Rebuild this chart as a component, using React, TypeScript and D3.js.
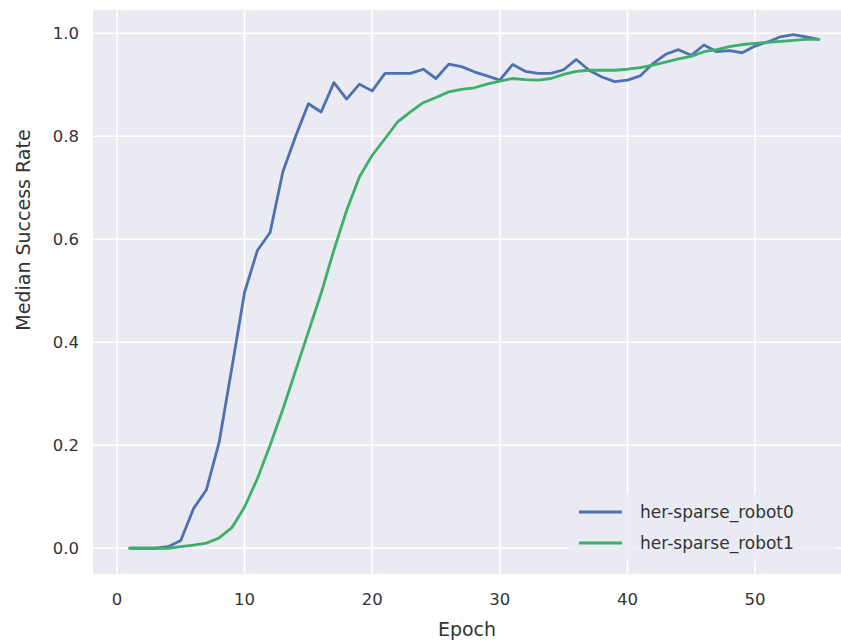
import { useEffect } from 'react';
import * as d3 from 'd3';

const epochs = d3.range(1, 56);

const robot0 = [
  0, 0, 0, 0.003, 0.015, 0.077, 0.113, 0.205, 0.35, 0.497,
  0.578, 0.613, 0.731, 0.8, 0.863, 0.847, 0.904, 0.872, 0.901, 0.888,
  0.922, 0.922, 0.922, 0.93, 0.912, 0.94, 0.935, 0.925, 0.917, 0.909,
  0.939, 0.926, 0.922, 0.922, 0.929, 0.949, 0.928, 0.915, 0.906, 0.909,
  0.917, 0.941, 0.959, 0.968, 0.957, 0.977, 0.964, 0.966, 0.962, 0.975,
  0.983, 0.993, 0.997, 0.993, 0.988,
];

const robot1 = [
  0, 0, 0, 0, 0.003, 0.006, 0.01, 0.02, 0.04, 0.08,
  0.135, 0.2, 0.27, 0.345, 0.42, 0.495, 0.579, 0.656, 0.721, 0.763,
  0.795, 0.828, 0.847, 0.865, 0.875, 0.886, 0.891, 0.894, 0.901, 0.907,
  0.912, 0.91, 0.909, 0.912, 0.92, 0.926, 0.928, 0.928, 0.928, 0.93,
  0.933, 0.938, 0.944, 0.95, 0.955, 0.964, 0.968, 0.974, 0.978, 0.98,
  0.982, 0.984, 0.986, 0.988, 0.988,
];

const xTicks = [0, 10, 20, 30, 40, 50];
const yTicks = [0, 0.2, 0.4, 0.6, 0.8, 1.0];

const series = [
  { name: 'her-sparse_robot0', values: robot0, color: '#4C72B0' },
  { name: 'her-sparse_robot1', values: robot1, color: '#3DAF6A' },
];

const W = 841;
const H = 644;
const plot = { left: 93, right: 841, top: 10, bottom: 574 };
const font = '"DejaVu Sans", sans-serif';

export default function App() {
  useEffect(() => {
    document.body.style.margin = '0';
  }, []);

  const x = d3.scaleLinear().domain([-1.88, 56.74]).range([plot.left, plot.right]);
  const y = d3.scaleLinear().domain([-0.05, 1.045]).range([plot.bottom, plot.top]);

  const line = d3.line<number>()
    .x((_, i) => x(epochs[i]))
    .y(d => y(d));

  return (
    <svg width={W} height={H} style={{ display: 'block' }} fontFamily={font}>
      <rect x={0} y={0} width={W} height={H} fill="#fff" />
      <rect
        x={plot.left}
        y={plot.top}
        width={plot.right - plot.left}
        height={plot.bottom - plot.top}
        fill="#EAEAF2"
      />
      {xTicks.map(t => (
        <line key={'gx' + t} x1={x(t)} x2={x(t)} y1={plot.top} y2={plot.bottom} stroke="#fff" strokeWidth={1.6} />
      ))}
      {yTicks.map(t => (
        <line key={'gy' + t} x1={plot.left} x2={plot.right} y1={y(t)} y2={y(t)} stroke="#fff" strokeWidth={1.6} />
      ))}

      {series.map(s => (
        <path key={s.name} d={line(s.values) || ''} fill="none" stroke={s.color} strokeWidth={2.8} strokeLinejoin="round" strokeLinecap="round" />
      ))}

      {xTicks.map(t => (
        <text key={'tx' + t} x={x(t)} y={605} textAnchor="middle" fontSize={16.5} fill="#333">{t}</text>
      ))}
      {yTicks.map(t => (
        <text key={'ty' + t} x={79} y={y(t)} dy="0.35em" textAnchor="end" fontSize={16.5} fill="#333">{d3.format('.1f')(t)}</text>
      ))}

      <text x={(plot.left + plot.right) / 2} y={636} textAnchor="middle" fontSize={19} fill="#333">Epoch</text>
      <text transform={`translate(30,230) rotate(-90)`} textAnchor="middle" fontSize={19} fill="#333">Median Success Rate</text>

      <g>
        <rect x={568} y={494} width={268} height={66} rx={4} fill="#EAEAF2" fillOpacity={0.8} />
        {series.map((s, i) => (
          <g key={'lg' + s.name} transform={`translate(0,${512 + i * 31})`}>
            <line x1={579} x2={622} y1={0} y2={0} stroke={s.color} strokeWidth={2.8} />
            <text x={640} y={0} dy="0.35em" fontSize={17} fill="#333">{s.name}</text>
          </g>
        ))}
      </g>
    </svg>
  );
}
